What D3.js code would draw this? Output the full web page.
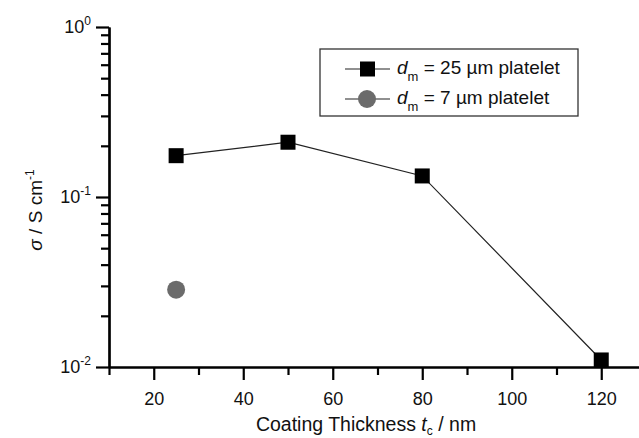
<!DOCTYPE html>
<html>
<head>
<meta charset="utf-8">
<script src="https://cdn.jsdelivr.net/npm/d3@7"></script>
<style>
  body { margin: 0; background: #fff; }
  svg { font-family: "Liberation Sans", Arial, sans-serif; }
</style>
</head>
<body>
<svg id="chart" width="639" height="438"></svg>
<script>
// data
const thick25 = [25, 50, 80, 120];
const sigma25 = [0.175, 0.21, 0.133, 0.011];
const thick7 = [25];
const sigma7 = [0.0285];
const xTicks = [20, 40, 60, 80, 100, 120];
const xMinor = [10, 30, 50, 70, 90, 110, 130];
const yTicks = [1e-2, 1e-1, 1];
const yMinor = [0.02, 0.03, 0.04, 0.05, 0.06, 0.07, 0.08, 0.09,
                0.2, 0.3, 0.4, 0.5, 0.6, 0.7, 0.8, 0.9];
const legendNames = ['= 25 µm platelet', '= 7 µm platelet'];

const svg = d3.select('#chart');
const margin = { top: 27, right: 0, bottom: 71, left: 109 };
const height = 438 - margin.top - margin.bottom;

const x = d3.scaleLinear().domain([10, 130]).range([0, 537]);
const y = d3.scaleLog().domain([1e-2, 1]).range([height, 0]);

const g = svg.append('g').attr('transform', `translate(${margin.left},${margin.top})`);

// minor ticks as their own axes
const xMin = g.append('g')
    .attr('transform', `translate(0,${height})`)
    .call(d3.axisBottom(x).tickValues(xMinor).tickSize(8).tickSizeOuter(0).tickFormat(''));
const yMin = g.append('g')
    .call(d3.axisLeft(y).tickValues(yMinor).tickSize(8).tickSizeOuter(0).tickFormat(''));

// major axes
const xAxis = g.append('g')
    .attr('transform', `translate(0,${height})`)
    .call(d3.axisBottom(x).tickValues(xTicks).tickSize(13).tickSizeOuter(0).tickPadding(12));
const yAxis = g.append('g')
    .call(d3.axisLeft(y).tickValues(yTicks).tickSize(13).tickSizeOuter(0).tickFormat(''));

[xMin, yMin, xAxis, yAxis].forEach(a => {
    a.select('.domain').attr('stroke-width', 2.2);
    a.selectAll('.tick line').attr('stroke-width', 2.2).attr('stroke', '#000');
});
xAxis.selectAll('text').attr('font-size', 18).attr('fill', '#111');

// y tick labels as 10^n
yTicks.forEach(v => {
    const t = g.append('text')
        .attr('x', -18).attr('y', y(v) + 6)
        .attr('text-anchor', 'end').attr('font-size', 18).attr('fill', '#111');
    t.append('tspan').text('10');
    t.append('tspan').attr('dy', -8).attr('font-size', 12).text(Math.round(Math.log10(v)));
});

// line + squares
const line = d3.line().x(d => x(d[0])).y(d => y(d[1]));
const pts25 = thick25.map((t, i) => [t, sigma25[i]]);
g.append('path').datum(pts25).attr('d', line)
    .attr('fill', 'none').attr('stroke', '#222').attr('stroke-width', 1.2);
g.selectAll('.sq').data(pts25).enter().append('rect')
    .attr('x', d => x(d[0]) - 7.5).attr('y', d => y(d[1]) - 7.5)
    .attr('width', 15).attr('height', 15).attr('fill', '#000');

const pts7 = thick7.map((t, i) => [t, sigma7[i]]);
g.selectAll('.ci').data(pts7).enter().append('circle')
    .attr('cx', d => x(d[0])).attr('cy', d => y(d[1]))
    .attr('r', 9).attr('fill', '#6b6b6b');

// legend
const lg = svg.append('g');
lg.append('rect').attr('x', 320).attr('y', 49).attr('width', 258).attr('height', 67)
    .attr('fill', '#fff').attr('stroke', '#333').attr('stroke-width', 1.3);
const rows = [69, 99];
rows.forEach((ry, i) => {
    lg.append('line').attr('x1', 345).attr('x2', 390).attr('y1', ry).attr('y2', ry)
        .attr('stroke', '#222').attr('stroke-width', 1.2);
    if (i === 0) {
        lg.append('rect').attr('x', 360).attr('y', ry - 7.5).attr('width', 15).attr('height', 15).attr('fill', '#000');
    } else {
        lg.append('circle').attr('cx', 367).attr('cy', ry).attr('r', 9).attr('fill', '#6b6b6b');
    }
    const t = lg.append('text').attr('x', 397).attr('y', ry + 5).attr('font-size', 19).attr('fill', '#111');
    t.append('tspan').attr('font-style', 'italic').text('d');
    t.append('tspan').attr('dy', 7).attr('font-size', 13).text('m');
    t.append('tspan').attr('dy', -7).text(' ' + legendNames[i]);
});

// axis titles
const xt = svg.append('text').attr('x', 366).attr('y', 431)
    .attr('text-anchor', 'middle').attr('font-size', 19.5).attr('fill', '#111');
xt.append('tspan').text('Coating Thickness ');
xt.append('tspan').attr('font-style', 'italic').text('t');
xt.append('tspan').attr('dy', 4).attr('font-size', 12).text('c');
xt.append('tspan').attr('dy', -4).text(' / nm');

const yt = svg.append('text').attr('transform', 'translate(42,210) rotate(-90)')
    .attr('text-anchor', 'middle').attr('font-size', 19).attr('fill', '#111');
yt.append('tspan').attr('font-style', 'italic').text('σ');
yt.append('tspan').text(' / S cm');
yt.append('tspan').attr('dy', -8).attr('font-size', 12).text('-1');
</script>
</body>
</html>
